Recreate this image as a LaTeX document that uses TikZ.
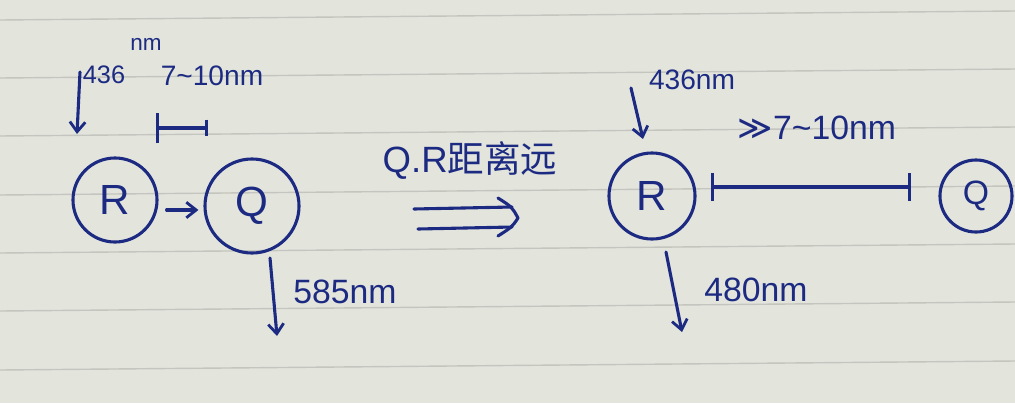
\documentclass[tikz,border=0pt]{standalone}
\usepackage{fontspec}
\setmainfont{Liberation Sans}
\newfontfamily\cjk{Noto Sans CJK SC}
\newfontfamily\sym{DejaVu Sans}
\usetikzlibrary{arrows.meta,calc}
\definecolor{paper}{HTML}{E3E5DD}
\definecolor{rule}{HTML}{C3C5BE}
\definecolor{ink}{HTML}{1C2A82}
\tikzset{
  ink/.style={draw=ink,line width=2.2pt,line cap=round,line join=round},
  dot/.style={ink,circle,inner sep=0pt,text=ink,font=\fontsize{30}{30}\selectfont},
  lbl/.style={text=ink,inner sep=1pt,font=\fontsize{24}{24}\selectfont},
  tip/.style={-{Straight Barb[length=7pt,width=11pt,line width=2pt]}}
}
\begin{document}
\begin{tikzpicture}[x=0.025cm,y=-0.025cm]
  \fill[paper] (0,0) rectangle (1015,403);
  \useasboundingbox (0,0) rectangle (1015,403);
  \foreach \y in {20,78,136,195,253,311,370}
    \draw[rule,line width=1pt] (0,\y) -- (1015,\y-9);
  % left: R and Q close together
  \node[dot,minimum size=2.1cm] (R1) at (115,200) {R};
  \node[dot,minimum size=2.35cm] (Q1) at (252,206) {Q};
  \draw[ink,tip,shorten <=0.2cm,shorten >=0.125cm] (R1.east |- 0,210) -- (Q1.west |- 0,210);
  \coordinate (e1s) at (80,72);
  \coordinate (e1e) at (77,134);
  \draw[ink,tip] (e1s) -- (e1e);
  \node[lbl,font=\fontsize{18}{18}\selectfont] (w1) at (104,75) {436};
  \node[lbl,font=\fontsize{16}{16}\selectfont] (u1) at (146,44) {nm};
  \node[lbl,font=\fontsize{20}{20}\selectfont] (d1) at (212,76) {7\textasciitilde 10nm};
  \coordinate (b1l) at (156,128);
  \coordinate (b1r) at (208,128);
  \draw[ink,{Bar[width=22pt]}-{Bar[width=12pt]}] (b1l) -- (b1r);
  \coordinate (f1s) at (270,258);
  \coordinate (f1e) at (277,336);
  \draw[ink,tip] (f1s) -- (f1e);
  \node[lbl] (w2) at (345,292) {585nm};
  % middle
  \node[text=ink,inner sep=1pt] (cap) at (470,160) {\fontsize{26}{26}\selectfont Q.R{\cjk 距离远}};
  \coordinate (m1) at (414,209);
  \coordinate (m2) at (512,207);
  \coordinate (m3) at (418,229);
  \coordinate (m4) at (512,227);
  \coordinate (mt) at (518,218);
  \draw[ink] (m1) -- (m2);
  \draw[ink] (m3) -- (m4);
  \draw[ink] ($(m2)+(-14,-9)$) .. controls (m2) .. (mt) .. controls (m4) .. ($(m4)+(-14,9)$);
  % right: R and Q far apart
  \node[dot,minimum size=2.15cm] (R2) at (652,196) {R};
  \node[dot,minimum size=1.8cm,font=\fontsize{24}{24}\selectfont] (Q2) at (976,196) {Q};
  \coordinate (b2l) at (711,187);
  \coordinate (b2r) at (911,187);
  \draw[ink,{Bar[width=20pt]}-{Bar[width=20pt]}] (b2l) -- (b2r);
  \node[lbl] (d2) at (817,128) {{\sym ≫}7\textasciitilde 10nm};
  \coordinate (e2s) at (631,88);
  \coordinate (e2e) at (643,139);
  \draw[ink,tip] (e2s) -- (e2e);
  \node[lbl,font=\fontsize{20}{20}\selectfont] (w3) at (692,80) {436nm};
  \coordinate (f2s) at (666,252);
  \coordinate (f2e) at (682,332);
  \draw[ink,tip] (f2s) -- (f2e);
  \node[lbl] (w4) at (756,290) {480nm};
\end{tikzpicture}
\end{document}
